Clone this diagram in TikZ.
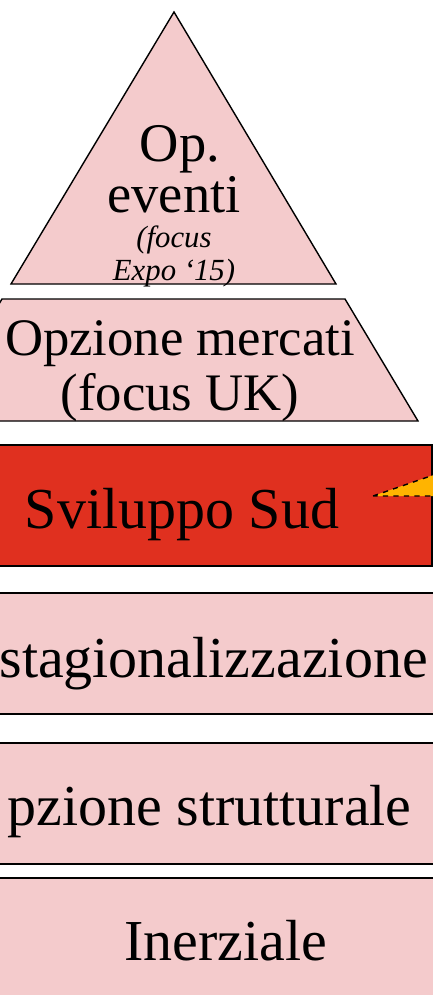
\documentclass[tikz,border=0pt]{standalone}
\usepackage{fontspec}
\setmainfont{Liberation Serif}
\definecolor{pinkfill}{HTML}{F4CBCC}
\definecolor{sudred}{HTML}{E0301F}
\definecolor{arrowgold}{HTML}{FFB400}

\begin{document}
\begin{tikzpicture}[x=0.02cm, y=-0.02cm, level shape/.style={draw, line width=0.8pt, fill=pinkfill}, hot shape/.style={draw, line width=0.8pt, fill=sudred}, big label/.style={anchor=base, inner sep=0pt, font=\fontsize{33}{33}\selectfont}, top label/.style={anchor=base, inner sep=0pt, font=\fontsize{31}{31}\selectfont}, mid label/.style={anchor=base, inner sep=0pt, font=\fontsize{30}{30}\selectfont}, small label/.style={anchor=base, inner sep=0pt, font=\fontsize{17.5}{17.5}\selectfont\itshape}]

\useasboundingbox (0,0) rectangle (433,995);
\clip (0,0) rectangle (433,995);

% levels of the pyramid
\draw[level shape] (174,12) -- (336,284) -- (11,284) -- cycle;
\draw[level shape] (2,299) -- (345,299) -- (418,421) -- (-71,421) -- cycle;
\draw[hot shape] (-10,445) rectangle (432,566);
\draw[level shape] (-10,593) rectangle (450,714);
\draw[level shape] (-10,743) rectangle (450,864);
\draw[level shape] (-10,878) rectangle (450,1010);
\draw[line width=1.2pt] (-10,878) -- (450,878);

% pointer into Sviluppo Sud
\draw[dashed, line width=0.8pt, fill=arrowgold] (373,496) -- (445,471) -- (445,496) -- cycle;

\node[top label] (op) at (180,161) {Op.};
\node[top label] (eventi) at (174,212) {eventi};
\node[small label] (focus) at (174,247) {(focus};
\node[small label] (expo) at (174,280) {Expo ‘15)};

\node[mid label] (mercati) at (180,355) {Opzione mercati};
\node[mid label] (uk) at (180,410) {(focus UK)};

\node[big label] (sud) at (182,528) {Sviluppo Sud};
\node[big label, anchor=base east] (destag) at (428,677) {stagionalizzazione};
\node[big label, anchor=base east] (strutt) at (412,825) {pzione strutturale};
\node[big label] (inerz) at (226,960) {Inerziale};
\end{tikzpicture}
\end{document}
